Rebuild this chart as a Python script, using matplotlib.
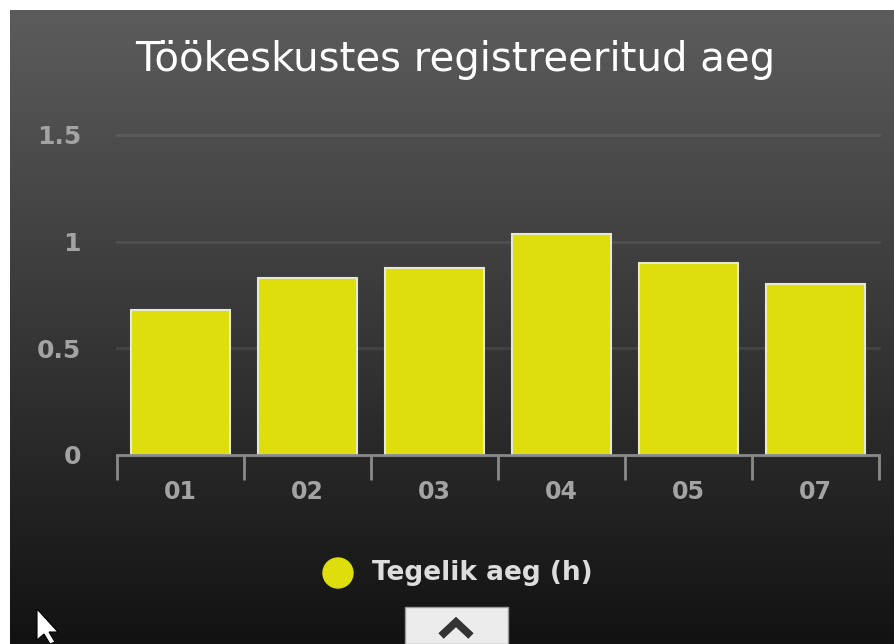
import numpy as np
import matplotlib
matplotlib.use("Agg")
import matplotlib.pyplot as plt
import matplotlib.patches as patches
from matplotlib.colors import LinearSegmentedColormap

# data
categories = ['01', '02', '03', '04', '05', '07']
values = [0.68, 0.83, 0.875, 1.035, 0.90, 0.80]
y_ticks = [0, 0.5, 1, 1.5]
y_tick_labels = ['0', '0.5', '1', '1.5']
title = 'Töökeskustes registreeritud aeg'
series_name = 'Tegelik aeg (h)'

W, H = 895, 644
fig = plt.figure(figsize=(W / 100, H / 100), dpi=100)
fig.patch.set_facecolor('white')

# dark gradient panel
bg = fig.add_axes([10 / W, 0, (W - 10) / W, (H - 10) / H])
cmap = LinearSegmentedColormap.from_list('bg', ['#5c5c5c', '#121212'])
grad = np.linspace(0, 1, 256).reshape(-1, 1)
bg.imshow(grad, aspect='auto', cmap=cmap, extent=[0, 1, 0, 1])
bg.set_axis_off()

# plot area
left, right, top, bottom = 117, 879, 135, 455
ax = fig.add_axes([left / W, (H - bottom) / H, (right - left) / W, (bottom - top) / H])
ax.patch.set_alpha(0)

x = np.arange(len(categories))
ax.bar(x, values, width=0.776, color='#dede0c', edgecolor='#e8e8d0', linewidth=1.5, zorder=3)

ax.set_xlim(-0.5, len(categories) - 0.5)
ax.set_ylim(0, 1.5)

# grid lines (faint, a bit lighter than the background)
for v in y_ticks[1:]:
    ax.axhline(v, color='white', alpha=0.08, linewidth=2, zorder=1, clip_on=False)

for s in ['top', 'right', 'left']:
    ax.spines[s].set_visible(False)
ax.spines['bottom'].set_color('#8a8a8a')
ax.spines['bottom'].set_linewidth(2)
ax.spines['bottom'].set_zorder(4)

ax.set_yticks(y_ticks)
ax.set_yticklabels(y_tick_labels)
ax.tick_params(axis='y', length=0, pad=26, labelsize=18, labelcolor='#a3a3a3')

# x ticks sit on the category boundaries, labels in the middle
ax.set_xticks(np.arange(len(categories) + 1) - 0.5)
ax.set_xticklabels([])
ax.tick_params(axis='x', which='major', length=18, width=2, color='#8a8a8a', direction='out')
ax.set_xticks(x, minor=True)
ax.set_xticklabels(categories, minor=True)
ax.tick_params(axis='x', which='minor', length=0, pad=18, labelsize=17, labelcolor='#a3a3a3')

for lab in ax.get_yticklabels() + ax.get_xticklabels(minor=True):
    lab.set_fontweight('bold')

# title
fig.text(455 / W, 1 - 60 / H, title, ha='center', va='center', color='white', fontsize=29)

# legend
fig.add_artist(patches.Ellipse((338 / W, 1 - 573 / H), 30 / W, 30 / H,
                               transform=fig.transFigure, color='#dede0c'))
fig.text(372 / W, 1 - 573 / H, series_name, ha='left', va='center', color='#dddddd',
         fontsize=19, fontweight='bold')

# collapse button at the bottom
fig.add_artist(patches.Rectangle((405 / W, 0), 103 / W, 37 / H, transform=fig.transFigure,
                                 facecolor='#ececec', edgecolor='#999999', linewidth=1))
fig.add_artist(plt.Line2D([441 / W, 456 / W, 471 / W], [1 - 636 / H, 1 - 622 / H, 1 - 636 / H],
                          transform=fig.transFigure, color='#333333', linewidth=5.5,
                          solid_capstyle='butt', solid_joinstyle='miter'))

# mouse pointer
cursor = np.array([[37, 609], [37, 640], [44, 634], [50, 644], [55, 642], [49, 632], [58, 632]])
fig.add_artist(patches.Polygon(np.column_stack([cursor[:, 0] / W, 1 - cursor[:, 1] / H]),
                               closed=True, transform=fig.transFigure,
                               facecolor='white', edgecolor='black', linewidth=0.8))

fig.savefig('out.png', dpi=100, facecolor=fig.get_facecolor())
